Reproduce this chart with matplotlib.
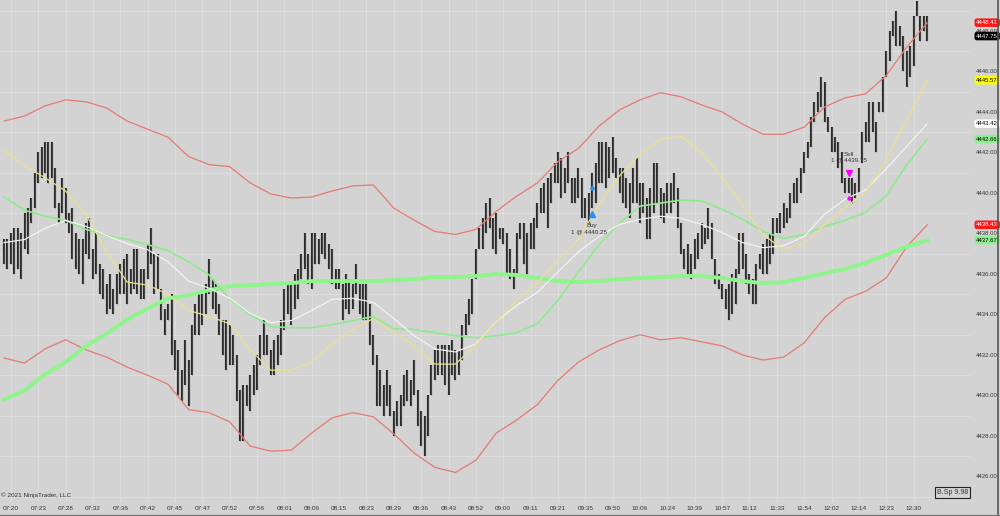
import numpy as np
import matplotlib
matplotlib.use('Agg')
import matplotlib.pyplot as plt

plt.rcParams['font.family'] = ['Liberation Sans', 'DejaVu Sans']

# bar highs / lows (one bar per index, 271 bars)
highs = [
    4437.75, 4437.75, 4438, 4438.25, 4438.25, 4438, 4439, 4439.25, 4439.75, 4441,
    4442, 4442.25, 4442.5, 4442.5, 4442.5, 4441.25, 4439.5, 4440.75, 4440.25, 4439,
    4439.25, 4438, 4437.75, 4437.75, 4438.5, 4438.75, 4437.25, 4438, 4436.5, 4436.25,
    4435.5, 4436, 4435.25, 4436, 4436.5, 4436.75, 4437, 4436.25, 4437.25, 4437.25,
    4436.25, 4436.25, 4437.5, 4438.25, 4437, 4437, 4435.25, 4434.25, 4434.5, 4435,
    4432.75, 4432.25, 4431.25, 4432.75, 4431.75,
    4433.5, 4434.5, 4435, 4435, 4435.5, 4436.75, 4435.75, 4435.5, 4434.5, 4433.75,
    4433.75, 4433.5, 4433, 4432, 4430.25, 4430.5, 4430.5, 4431, 4431.5, 4432,
    4433, 4433.75, 4433, 4432.25, 4432.75, 4433, 4433.75, 4435.25, 4435.5, 4435.5,
    4436, 4436.25, 4437, 4438, 4437, 4438, 4438, 4437.75, 4438, 4438,
    4437.5, 4437.25, 4436.25, 4436.25, 4435.5, 4436, 4435.75, 4435.5, 4436.5, 4435.5,
    4435.5, 4435.5, 4434.5, 4433,
    4432, 4431.25, 4430.5, 4431.25, 4430.5, 4429.25, 4429.75, 4430, 4431, 4431.25,
    4430.75, 4431.75, 4430.25, 4429.25, 4429, 4430, 4431.5, 4432.25, 4432.5, 4432.5,
    4432.5, 4432.5, 4432.75, 4432.25, 4432.25, 4433.5, 4434, 4434.75, 4435.75, 4437.25,
    4438.25, 4438.75, 4439.5, 4439.75, 4438.75, 4439, 4438.25, 4438.25, 4438, 4437.25,
    4436.25, 4438, 4438.5, 4438.5, 4438, 4438.5, 4438.75, 4439.5, 4440.25, 4440.5,
    4440.75, 4441, 4441.5, 4442,
    4441.75, 4441.25, 4442, 4440.75, 4440.75, 4441.25, 4440.75, 4439.75, 4440, 4441,
    4441.5, 4442.5, 4442.5, 4442.5, 4442.25, 4442.75, 4441.75, 4441.25, 4441.25, 4440.75,
    4440.5, 4441.25, 4441.75, 4440.5, 4440.5, 4439.75, 4440.25, 4441.5, 4441.5, 4440.25,
    4440, 4440.5, 4440.5, 4441, 4440.25, 4438.5, 4437.25, 4437.5, 4437, 4437.75,
    4438, 4438.5, 4438.25, 4439.25, 4438.5, 4436.75, 4436, 4435.5, 4435.25, 4435.5,
    4436, 4436.25, 4438, 4438,
    4437, 4436, 4435.75, 4436.5, 4437, 4437.5, 4437.75, 4438, 4438.75, 4438.75,
    4439, 4439.5, 4439.25, 4440, 4440.5, 4440.75, 4441.25, 4442, 4442.5, 4443.75,
    4444.5, 4445, 4445.75, 4445.5, 4443.75, 4443.25, 4442.75, 4442.5, 4442, 4440.75,
    4440.75, 4440.75, 4440.5, 4441.25, 4443, 4443.5, 4444.5, 4444.5, 4443.5, 4444.5,
    4445.75, 4447, 4448, 4448.5, 4449, 4448.25, 4447.75, 4447, 4447.25, 4448.75,
    4449.5, 4448.75, 4448.75, 4448.75,
]
lows = [
    4436.5, 4436.25, 4436.5, 4436, 4436.25, 4435.75, 4437.25, 4437, 4438.5, 4439.25,
    4440.5, 4440.75, 4441, 4440.5, 4440.75, 4439.25, 4438.5, 4439, 4438.5, 4438,
    4436.75, 4436.25, 4436, 4435.5, 4437, 4436.75, 4435.75, 4436, 4435, 4434.75,
    4434, 4434.25, 4434, 4434.5, 4435, 4435, 4434.5, 4435, 4435.25, 4435,
    4434.75, 4434.75, 4435.75, 4436.5, 4435, 4435.25, 4433.75, 4433, 4433.75, 4432,
    4431.25, 4430, 4429.75, 4430.5, 4429.5,
    4431, 4433, 4433, 4433.5, 4434, 4435, 4434.25, 4434, 4433, 4432,
    4431.25, 4431.5, 4431.5, 4429.75, 4427.75, 4427.75, 4429.5, 4429.25, 4430, 4430.25,
    4431.5, 4432, 4432, 4431, 4431, 4431.5, 4432, 4433.25, 4434, 4433.5,
    4434.25, 4434.75, 4435.75, 4436.25, 4435.5, 4435.25, 4436.5, 4436.5, 4437, 4436.75,
    4436.25, 4435.5, 4435.25, 4435.25, 4433.75, 4434.25, 4434, 4434.25, 4435, 4434,
    4433.75, 4433.75, 4432.5, 4431.5,
    4429.5, 4429.5, 4429, 4429.5, 4429, 4428, 4428.5, 4428.5, 4429.5, 4429.75,
    4429.5, 4430, 4428.5, 4427.5, 4427, 4428, 4430, 4430.75, 4431, 4431,
    4430.5, 4430, 4431, 4430.75, 4431, 4431.75, 4433, 4433.5, 4434, 4435.75,
    4437.25, 4437.25, 4438, 4438.25, 4437.25, 4437, 4437.75, 4437.5, 4436, 4435.75,
    4435.25, 4436, 4437.75, 4436.5, 4436, 4437.25, 4437.25, 4438.25, 4439, 4439,
    4438.25, 4439.5, 4440.5, 4440.5,
    4439.75, 4440, 4440.5, 4439.5, 4439.5, 4439.75, 4438.75, 4438.75, 4438.5, 4439.25,
    4439.5, 4440.5, 4440.5, 4440.25, 4440.75, 4441, 4440.75, 4440, 4439.5, 4439.25,
    4438.75, 4439.5, 4439.5, 4438.5, 4439, 4437.75, 4437.75, 4439, 4439.5, 4438.75,
    4438.5, 4439, 4439, 4439.5, 4438.25, 4437, 4436.25, 4436, 4435.75, 4436.25,
    4436.75, 4437.25, 4437.5, 4437.75, 4436.75, 4435.5, 4435.25, 4434.75, 4434.25, 4433.75,
    4434, 4434.5, 4436, 4436.25,
    4435.5, 4435, 4434.5, 4434.5, 4436.25, 4436, 4436, 4436.5, 4437, 4438,
    4438, 4438.25, 4438.5, 4438.75, 4439.5, 4439.5, 4440, 4441, 4441.75, 4442.25,
    4443.5, 4444, 4444.25, 4443.5, 4443, 4442, 4442, 4441.25, 4440.5, 4440,
    4440, 4439.5, 4439.75, 4440, 4441.5, 4442.5, 4442.5, 4443, 4442, 4444,
    4444, 4445.75, 4446.5, 4447.75, 4447.25, 4447.25, 4446, 4445.25, 4445.75, 4446.25,
    4448.75, 4447.5, 4448, 4447.5,
]

# indicator lines, read every 6 bars
upper_band = [
    4443.55, 4443.8, 4444.3, 4444.6, 4444.5, 4444.2, 4443.55, 4443.15, 4442.75, 4441.8,
    4441.4, 4441.3, 4440.5, 4439.95, 4439.75, 4439.8, 4440.1, 4440.35, 4440.4, 4439.25,
    4438.65, 4438.1, 4437.95, 4438.2, 4439.1, 4439.85, 4440.5, 4441.55, 4442.2, 4443.3,
    4444.1, 4444.6, 4444.95, 4444.75, 4444.35, 4444.0, 4443.4, 4442.9, 4442.9, 4443.25,
    4444.25, 4444.7, 4444.9, 4445.8, 4447.2, 4448.41,
]
lower_band = [
    4431.85, 4431.6, 4432.3, 4432.75, 4432.25, 4431.9, 4431.4, 4431.0, 4430.55, 4429.3,
    4429.15, 4428.7, 4427.5, 4427.25, 4427.3, 4428.15, 4428.9, 4429.15, 4428.95, 4428.1,
    4427.15, 4426.45, 4426.2, 4426.8, 4428.15, 4428.8, 4429.55, 4430.75, 4431.65, 4432.25,
    4432.7, 4433.0, 4432.75, 4432.85, 4432.65, 4432.45, 4432.0, 4431.75, 4431.9, 4432.6,
    4433.85, 4434.75, 4435.15, 4435.8, 4437.35, 4438.43,
]
fast_ma = [
    4442.1, 4441.35, 4440.75, 4440.1, 4438.95, 4437.1, 4435.6, 4435.45, 4435.0, 4434.2,
    4433.9, 4433.55, 4432.25, 4431.25, 4431.25, 4431.65, 4432.55, 4433.25, 4433.8, 4433.1,
    4432.45, 4431.55, 4431.55, 4432.5, 4433.65, 4434.7, 4435.55, 4436.7, 4437.7, 4439.45,
    4440.85, 4441.9, 4442.65, 4442.8, 4442.0, 4440.75, 4439.4, 4437.95, 4437.2, 4437.5,
    4438.45, 4439.3, 4440.05, 4441.65, 4443.6, 4445.57,
]
mid_ma = [
    4437.55, 4437.7, 4438.25, 4438.65, 4438.35, 4437.9, 4437.5, 4437.2, 4436.6, 4435.65,
    4435.3, 4434.8, 4434.05, 4433.6, 4433.7, 4434.2, 4434.75, 4434.8, 4434.6, 4433.8,
    4432.95, 4432.3, 4432.15, 4432.55, 4433.65, 4434.45, 4435.1, 4436.1, 4437.1, 4437.85,
    4438.45, 4438.7, 4438.85, 4438.75, 4438.45, 4438.05, 4437.55, 4437.3, 4437.4, 4437.85,
    4438.95, 4439.7, 4440.15, 4441.2, 4442.3, 4443.42,
]
green_ma = [
    4439.8, 4439.15, 4438.85, 4438.65, 4438.2, 4437.9, 4437.7, 4437.45, 4437.15, 4436.6,
    4435.95, 4434.75, 4434.0, 4433.4, 4433.35, 4433.35, 4433.5, 4433.7, 4433.9, 4433.3,
    4433.25, 4433.1, 4432.95, 4432.85, 4432.95, 4433.1, 4433.55, 4434.7, 4436.1, 4437.45,
    4438.5, 4439.35, 4439.5, 4439.65, 4439.6, 4439.2, 4438.7, 4438.1, 4437.75, 4437.95,
    4438.35, 4438.65, 4439.05, 4439.85, 4441.4, 4442.66,
]
slow_ma = [
    4429.8, 4430.25, 4431.05, 4431.65, 4432.45, 4433.05, 4433.75, 4434.3, 4434.8, 4434.95,
    4435.2, 4435.4, 4435.45, 4435.5, 4435.55, 4435.65, 4435.65, 4435.65, 4435.65, 4435.7,
    4435.75, 4435.85, 4435.85, 4435.9, 4436.0, 4435.95, 4435.8, 4435.65, 4435.6, 4435.65,
    4435.75, 4435.8, 4435.85, 4435.9, 4435.9, 4435.8, 4435.65, 4435.55, 4435.6, 4435.8,
    4436.05, 4436.25, 4436.55, 4436.95, 4437.35, 4437.67,
]
last_price = 4447.75

time_labels = ['07:20', '07:23', '07:28', '07:32', '07:36', '07:42', '07:45', '07:47',
               '07:52', '07:56', '08:01', '08:06', '08:15', '08:23', '08:29', '08:36',
               '08:43', '08:52', '09:00', '09:11', '09:21', '09:35', '09:50', '10:06',
               '10:24', '10:39', '10:57', '11:12', '11:33', '11:54', '12:02', '12:14',
               '12:23', '12:30']

buy_bar, buy_price = 172, 4440.25
sell_bar, sell_price = 247, 4439.75

bg = '#d3d3d3'
bar_x = np.arange(len(highs))
line_x = np.arange(0, len(highs), 6)

fig = plt.figure(figsize=(10, 5.16), dpi=100, facecolor=bg)
ax = fig.add_axes([0, 14/516, 0.97, 502/516])
ax.set_facecolor(bg)
ax.set_xlim(-1.17, 282.5)
ax.set_ylim(4424.74, 4449.53)

# grid
ax.set_xticks(np.arange(2, 2 + 8*len(time_labels), 8))
ax.set_xticklabels(time_labels)
ax.set_yticks(np.arange(4426, 4449, 2))
ax.set_yticks(np.arange(4425, 4450, 2), minor=True)
ax.yaxis.set_major_formatter(matplotlib.ticker.FormatStrFormatter('%.2f'))
ax.grid(axis='x', which='major', color='#dedede', lw=0.7)
ax.grid(axis='y', which='minor', color='#dedede', lw=0.7)
ax.tick_params(axis='x', length=0, labelsize=4.6, pad=3, colors='#333333')
ax.tick_params(axis='y', which='both', left=False, labelleft=False, right=False,
               labelright=True, length=0, labelsize=4.3, pad=4.5, colors='#333333')
for s in ax.spines.values():
    s.set_visible(False)

# bars
ax.vlines(bar_x, lows, highs, color='#2b2b2b', lw=1.55, zorder=3)
ax.vlines(bar_x, lows, highs, color='#555555', lw=0.4, zorder=3)

# indicators
ax.plot(line_x, upper_band, color='#e57a72', lw=0.9, zorder=4)
ax.plot(line_x, lower_band, color='#e57a72', lw=0.9, zorder=4)
ax.plot(line_x, slow_ma, color='#8df58a', lw=2.8, zorder=4)
ax.plot(line_x, green_ma, color='#8eea8c', lw=1.2, zorder=4)
ax.plot(line_x, mid_ma, color='#f2f2f2', lw=0.9, zorder=4)
ax.plot(line_x, fast_ma, color='#ece08a', lw=0.9, zorder=4)

# executions
ax.plot(buy_bar, buy_price, marker='o', ms=2.2, color='#1e90ff', zorder=5)
ax.plot(buy_bar, buy_price - 1.3, marker='^', ms=4, color='#1e90ff', zorder=5)
ax.text(buy_bar, buy_price - 1.75, 'Buy', fontsize=4.5, ha='center', va='top',
        color='#333333', zorder=5)
ax.text(buy_bar - 1, buy_price - 2.05, '1 @ 4440.25', fontsize=4.5, ha='center',
        va='top', color='#333333', zorder=5)
ax.plot(sell_bar, sell_price, marker='o', ms=2.2, color='#ff00ff', zorder=5)
ax.plot(sell_bar, sell_price + 1.25, marker='v', ms=4, color='#ff00ff', zorder=5)
ax.text(sell_bar, sell_price + 1.75, '1 @ 4439.75', fontsize=4.5, ha='center',
        va='bottom', color='#333333', zorder=5)
ax.text(sell_bar, sell_price + 2.05, 'Sell', fontsize=4.5, ha='center', va='bottom',
        color='#333333', zorder=5)

# price markers on the right axis
markers = [
    (upper_band[-1], '#ff1a1a', 'white'),
    (last_price, '#000000', 'white'),
    (fast_ma[-1], '#ffff00', 'black'),
    (mid_ma[-1], '#ffffff', 'black'),
    (green_ma[-1], '#90ee90', 'black'),
    (lower_band[-1], '#ff1a1a', 'white'),
    (slow_ma[-1], '#90ee90', 'black'),
]
tr = ax.get_yaxis_transform()
for val, fc, tc in markers:
    ax.text(1.0065, val, '%.2f' % val, transform=tr, fontsize=4.3, color=tc,
            ha='left', va='center', clip_on=False, zorder=6,
            bbox=dict(boxstyle='round,pad=0.3,rounding_size=0.4', fc=fc, ec='none'))

fig.text(0.001, 0.040, '\u00a9 2021 NinjaTrader, LLC', fontsize=4.6, color='#333333',
         ha='left', va='center')
fig.text(0.9525, 0.0455, 'B.Sp 9.98', fontsize=5, color='#333333', ha='center',
         va='center', bbox=dict(boxstyle='square,pad=0.25', fc=bg, ec='#222222', lw=0.8))

fig.add_artist(plt.Line2D([0.998, 0.998], [0, 1], color='#555555', lw=1.2))
fig.add_artist(plt.Line2D([0, 1], [0.002, 0.002], color='#777777', lw=1))

fig.savefig('out.png', dpi=100, facecolor=bg)
